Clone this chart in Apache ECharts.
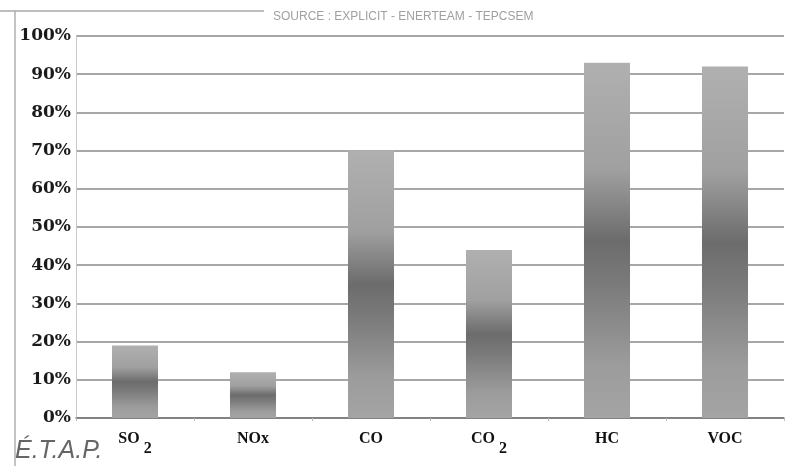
<!DOCTYPE html>
<html>
<head>
<meta charset="utf-8">
<script src="https://cdn.jsdelivr.net/npm/echarts@6/dist/echarts.min.js"></script>
<style>
  html, body { margin: 0; padding: 0; background: #fff; }
  #chart { width: 788px; height: 466px; }
</style>
</head>
<body>
<div id="chart"></div>
<script>
// Pollutant categories
const categories = ['SO2', 'NOx', 'CO', 'CO2', 'HC', 'VOC'];
// Share of each pollutant, in percent
const shares = [19, 12, 70, 44, 93, 92];
// Value axis ticks
const yMin = 0, yMax = 100, yStep = 10;

const sourceText = 'SOURCE : EXPLICIT - ENERTEAM - TEPCSEM';

const barFill = {
  type: 'linear', x: 0, y: 0, x2: 0, y2: 1,
  colorStops: [
    { offset: 0, color: '#b0b0b0' },
    { offset: 0.3, color: '#a0a0a0' },
    { offset: 0.5, color: '#6c6c6c' },
    { offset: 0.62, color: '#7a7a7a' },
    { offset: 0.85, color: '#9c9c9c' },
    { offset: 1, color: '#a4a4a4' }
  ]
};

// Trailing digit of a formula is drawn as a subscript
function formulaLabel(name) {
  const m = name.match(/^(.*?)(\d)$/);
  if (m) return '{m|' + m[1] + '}{sub|' + m[2] + '}';
  return '{m|' + name + '}';
}

const labelFont = { fontFamily: 'Liberation Serif, serif', fontWeight: 'bold', fontSize: 16, color: '#111' };

const chart = echarts.init(document.getElementById('chart'));
chart.setOption({
  backgroundColor: '#ffffff',
  animation: false,
  title: {
    text: sourceText,
    left: 268,
    top: 6,
    textStyle: { fontSize: 12, fontWeight: 'normal', color: '#a0a0a0', fontFamily: 'Liberation Sans, sans-serif' }
  },
  grid: { left: 76, right: 4, top: 36, bottom: 48, containLabel: false },
  xAxis: {
    type: 'category',
    data: categories,
    axisLine: { show: true, lineStyle: { color: '#777', width: 1.5 } },
    axisTick: { show: true, length: 3, lineStyle: { color: '#bbb' } },
    axisLabel: {
      margin: 13,
      formatter: formulaLabel,
      rich: {
        m: Object.assign({ padding: [0, 0, 10, 0] }, labelFont),
        sub: Object.assign({ padding: [10, 0, 0, 4] }, labelFont)
      }
    }
  },
  yAxis: {
    type: 'value',
    min: yMin,
    max: yMax,
    interval: yStep,
    axisLine: { show: true, lineStyle: { color: '#c8c8c8', width: 1 } },
    axisTick: { show: false },
    axisLabel: {
      margin: 5,
      formatter: '{value}%',
      fontFamily: 'DejaVu Serif, serif',
      fontWeight: 'bold',
      fontSize: 17,
      color: '#1a1a1a'
    },
    splitLine: { lineStyle: { color: '#8a8a8a', width: 1.5 } }
  },
  series: [{
    type: 'bar',
    data: shares,
    barWidth: '39%',
    itemStyle: { color: barFill }
  }],
  graphic: [
    { type: 'line', shape: { x1: 15, y1: 11, x2: 15, y2: 466 }, style: { stroke: '#b0b0b0', lineWidth: 1.5 } },
    { type: 'line', shape: { x1: 0, y1: 11, x2: 264, y2: 11 }, style: { stroke: '#a8a8a8', lineWidth: 1.5 } },
    {
      type: 'text', left: 15, top: 439,
      style: { text: 'É.T.A.P.', font: 'italic 25px "Liberation Sans", sans-serif', fill: '#666666' }
    }
  ]
});
</script>
</body>
</html>
